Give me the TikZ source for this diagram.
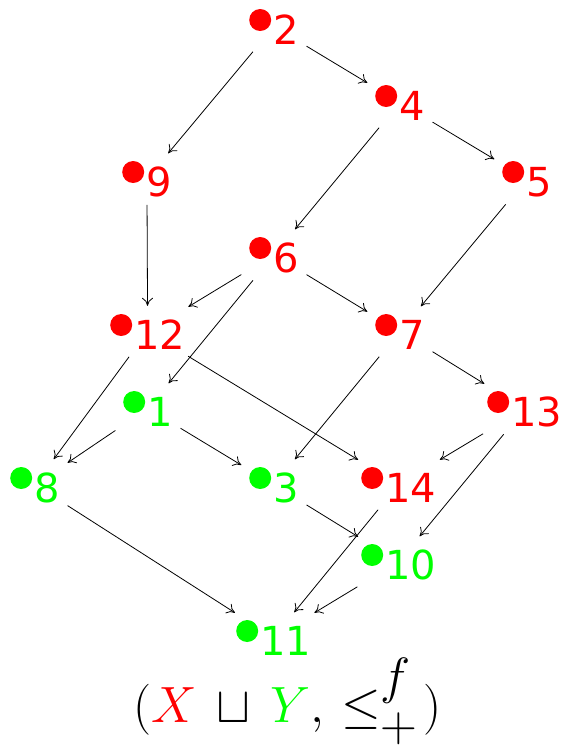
\RequirePackage{fix-cm}
\documentclass[tikz,border=0pt]{standalone}
\usepackage{fontspec}
\usetikzlibrary{arrows.meta}

\newfontfamily\dejavu{DejaVu Sans}

% filled dot set in front of a label, centre 24pt above the baseline
\newcommand{\elemdot}[1]{\raisebox{13pt}{\tikz\fill[#1] (0pt,0pt) circle (11pt);}\hspace{2pt}}

\tikzset{
  elem/.style={anchor=base west, xshift=-17pt, yshift=-24pt, inner sep=6pt,
    text=#1, font=\dejavu\fontsize{40}{48}\selectfont,
    execute at begin node={\elemdot{#1}}},
  edge/.style={line width=0.8pt, -{To[length=8pt,width=11pt]},
    shorten >=2pt, shorten <=2pt},
}

\begin{document}
\begin{tikzpicture}[x=1pt, y=-1pt]
    \useasboundingbox (0,0) rectangle (569,748);

    % elements of X (red)
    \node[elem=red] (n2)  at (260,20)  {2};
    \node[elem=red] (n4)  at (386,96)  {4};
    \node[elem=red] (n9)  at (133,172) {9};
    \node[elem=red] (n5)  at (513,172) {5};
    \node[elem=red] (n6)  at (260,248) {6};
    \node[elem=red] (n12) at (121,325) {12};
    \node[elem=red] (n7)  at (386,325) {7};
    \node[elem=red] (n13) at (498,402) {13};
    \node[elem=red] (n14) at (372,478) {14};

    % elements of Y (green)
    \node[elem=green] (n1)  at (134,402) {1};
    \node[elem=green] (n8)  at (21,478)  {8};
    \node[elem=green] (n3)  at (260,478) {3};
    \node[elem=green] (n10) at (372,555) {10};
    \node[elem=green] (n11) at (247,631) {11};

    % order relation
    \foreach \a/\b in {2/4, 2/9, 4/6, 4/5, 9/12, 5/7, 6/12, 6/7, 6/1,
                       12/8, 12/14, 7/3, 7/13, 1/8, 1/3, 13/14, 13/10,
                       8/11, 3/10, 14/11, 10/11}
        \draw[edge] (n\a) -- (n\b);

    % caption, scripts kept at full size
    \node[anchor=base, inner sep=0pt, font=\fontsize{51}{60}\selectfont] (cap) at (287.5,722)
        {$(\textcolor{red}{X}\,\sqcup\,\textcolor{green}{Y},\,
          \leq^{\raisebox{10pt}{$\textstyle f$}}_{\raisebox{-7pt}{$\textstyle +$}}\mskip2mu)$};

\end{tikzpicture}
\end{document}
